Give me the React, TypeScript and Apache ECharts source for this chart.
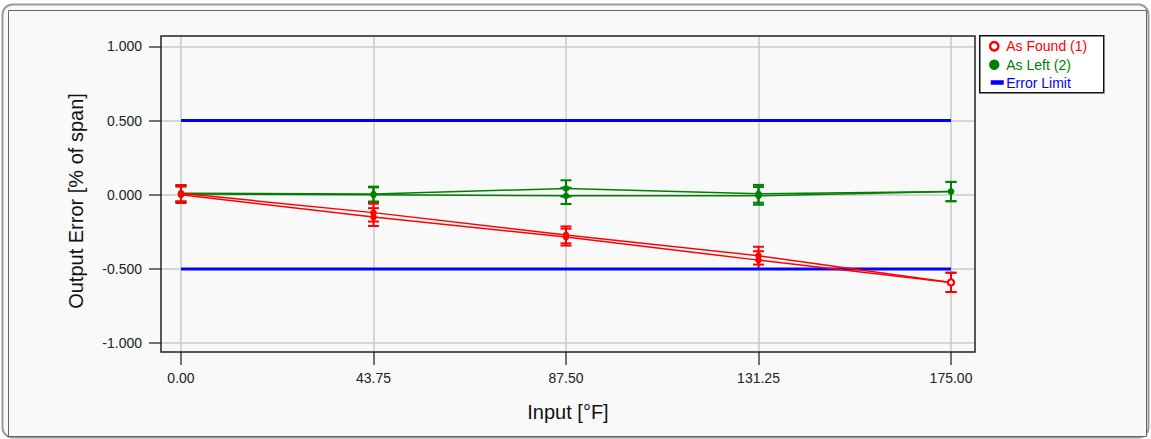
import React, { useEffect, useRef } from "react";
import * as echarts from "echarts";

const inputs = [0, 43.75, 87.5, 131.25, 175];
const xTickValues = [0, 43.75, 87.5, 131.25, 175];
const yTickValues = [-1, -0.5, 0, 0.5, 1];
const asFoundUp = [0.01, -0.12, -0.27, -0.41, -0.59];
const asFoundDown = [0.0, -0.15, -0.285, -0.44, -0.59];
const asFoundErr = [0.055, 0.06, 0.057, 0.06, 0.065];
const asLeftUp = [0.01, 0.005, 0.043, 0.007, 0.022];
const asLeftDown = [0.005, 0.0, -0.007, -0.007, 0.022];
const asLeftErr = [0.055, 0.05, 0.055, 0.06, 0.065];
const errorLimitHigh = [0.5, 0.5];
const errorLimitLow = [-0.5, -0.5];
const limitInputs = [0, 175];

const RED = "#ff0000";
const GREEN = "#008000";
const BLUE = "#0000ff";
const FONT = "'Liberation Sans', Arial, Helvetica, sans-serif";

function pointData(vals: number[], hollowLast: boolean) {
  return inputs.map((x, i) =>
    hollowLast && x === 175
      ? { value: [x, vals[i]], symbol: "emptyCircle", symbolSize: 6 }
      : { value: [x, vals[i]] }
  );
}

function errData(vals: number[], errs: number[]) {
  return inputs.map((x, i) => [x, vals[i] - errs[i], vals[i] + errs[i]]);
}

function errorBarSeries(name: string, vals: number[], errs: number[], color: string) {
  return {
    type: "custom",
    name,
    data: errData(vals, errs),
    encode: { x: 0, y: [1, 2] },
    clip: false,
    z: 3,
    renderItem: (params: any, api: any) => {
      const x = api.value(0);
      const lo = api.coord([x, api.value(1)]);
      const hi = api.coord([x, api.value(2)]);
      const hw = 5.5;
      const style = { stroke: color, lineWidth: 2 };
      return {
        type: "group",
        children: [
          { type: "line", shape: { x1: lo[0], y1: lo[1], x2: hi[0], y2: hi[1] }, style },
          { type: "line", shape: { x1: lo[0] - hw, y1: lo[1], x2: lo[0] + hw, y2: lo[1] }, style },
          { type: "line", shape: { x1: hi[0] - hw, y1: hi[1], x2: hi[0] + hw, y2: hi[1] }, style },
        ],
      };
    },
  };
}

function lineSeries(name: string, vals: number[], color: string, hollowLast: boolean) {
  return {
    type: "line",
    name,
    data: pointData(vals, hollowLast),
    symbol: "circle",
    symbolSize: 5,
    showSymbol: true,
    itemStyle: { color, borderColor: color, borderWidth: 1.5 },
    lineStyle: { color, width: 1.5 },
    z: 4,
  };
}

export default function App() {
  const ref = useRef<HTMLDivElement>(null);
  useEffect(() => {
    if (!ref.current) return;
    const chart = echarts.init(ref.current, undefined, { renderer: "svg" });
    const option: any = {
      animation: false,
      backgroundColor: "#ffffff",
      textStyle: { fontFamily: FONT },
      grid: {
        left: 161,
        right: 176,
        top: 36,
        bottom: 87,
        show: true,
        borderColor: "#222",
        borderWidth: 1.5,
        backgroundColor: "transparent",
        z: 2,
      },
      xAxis: {
        type: "value",
        min: -4.54,
        max: 180.45,
        name: "Input [°F]",
        nameLocation: "middle",
        nameGap: 50,
        nameTextStyle: { fontSize: 20, color: "#111", fontFamily: FONT },
        axisLine: { show: false, onZero: false },
        axisTick: {
          show: true,
          length: 13,
          customValues: xTickValues,
          lineStyle: { color: "#444", width: 1.5 },
        },
        axisLabel: {
          customValues: xTickValues,
          margin: 19,
          fontSize: 14,
          color: "#222",
          fontFamily: FONT,
          formatter: (v: number) => v.toFixed(2),
        },
        splitLine: { show: true, lineStyle: { color: "#c8c8c8", width: 1.5 } },
      },
      yAxis: {
        type: "value",
        min: -1.059,
        max: 1.07,
        name: "Output Error [% of span]",
        nameLocation: "middle",
        nameGap: 75,
        nameRotate: 90,
        nameTextStyle: { fontSize: 20, color: "#111", fontFamily: FONT, padding: [0, 14, 0, 0] },
        axisLine: { show: false, onZero: false },
        axisTick: {
          show: true,
          length: 12,
          customValues: yTickValues,
          lineStyle: { color: "#444", width: 1.5 },
        },
        axisLabel: {
          customValues: yTickValues,
          margin: 19,
          fontSize: 14,
          color: "#222",
          fontFamily: FONT,
          formatter: (v: number) => v.toFixed(3),
        },
        splitLine: { show: true, lineStyle: { color: "#c8c8c8", width: 1.5 } },
      },
      graphic: [
        {
          type: "rect",
          z: -10,
          silent: true,
          shape: { x: 2.5, y: 4.5, width: 1146, height: 433, r: 10 },
          style: { fill: "#f9f9f9", stroke: "#9a9a9a", lineWidth: 2 },
        },
        {
          type: "rect",
          z: -9,
          silent: true,
          shape: { x: 8.5, y: 10.5, width: 1138, height: 426 },
          style: { fill: "#f9f9f9", stroke: "#666", lineWidth: 1 },
        },
        {
          type: "group",
          left: 979,
          top: 35,
          children: [
            {
              type: "rect",
              shape: { x: 0.5, y: 0.5, width: 124, height: 57 },
              style: { fill: "#ffffff", stroke: "#111", lineWidth: 1.5 },
            },
            {
              type: "circle",
              shape: { cx: 15, cy: 11, r: 4.2 },
              style: { fill: "#ffffff", stroke: RED, lineWidth: 2.4 },
            },
            {
              type: "text",
              x: 27,
              y: 11,
              style: { text: "As Found (1)", fill: RED, font: `14px ${FONT}`, verticalAlign: "middle" },
            },
            {
              type: "circle",
              shape: { cx: 15, cy: 29.5, r: 5.2 },
              style: { fill: GREEN },
            },
            {
              type: "text",
              x: 27,
              y: 29.5,
              style: { text: "As Left (2)", fill: GREEN, font: `14px ${FONT}`, verticalAlign: "middle" },
            },
            {
              type: "rect",
              shape: { x: 11.5, y: 45, width: 13, height: 4.5 },
              style: { fill: BLUE },
            },
            {
              type: "text",
              x: 27,
              y: 47.5,
              style: { text: "Error Limit", fill: BLUE, font: `14px ${FONT}`, verticalAlign: "middle" },
            },
          ],
        },
      ],
      series: [
        {
          type: "line",
          name: "Error Limit",
          data: limitInputs.map((x, i) => [x, errorLimitHigh[i]]),
          symbol: "none",
          lineStyle: { color: BLUE, width: 3 },
          z: 3,
        },
        {
          type: "line",
          name: "Error Limit Low",
          data: limitInputs.map((x, i) => [x, errorLimitLow[i]]),
          symbol: "none",
          lineStyle: { color: BLUE, width: 3 },
          z: 3,
        },
        errorBarSeries("As Left (2) up error", asLeftUp, asLeftErr, GREEN),
        errorBarSeries("As Left (2) down error", asLeftDown, asLeftErr, GREEN),
        errorBarSeries("As Found (1) up error", asFoundUp, asFoundErr, RED),
        errorBarSeries("As Found (1) down error", asFoundDown, asFoundErr, RED),
        lineSeries("As Left (2)", asLeftUp, GREEN, false),
        lineSeries("As Left (2) down", asLeftDown, GREEN, false),
        lineSeries("As Found (1)", asFoundUp, RED, true),
        lineSeries("As Found (1) down", asFoundDown, RED, true),
      ],
    };
    chart.setOption(option);
    return () => chart.dispose();
  }, []);
  return (
    <div
      ref={ref}
      style={{ position: "fixed", left: 0, top: 0, width: 1151, height: 439 }}
    />
  );
}
